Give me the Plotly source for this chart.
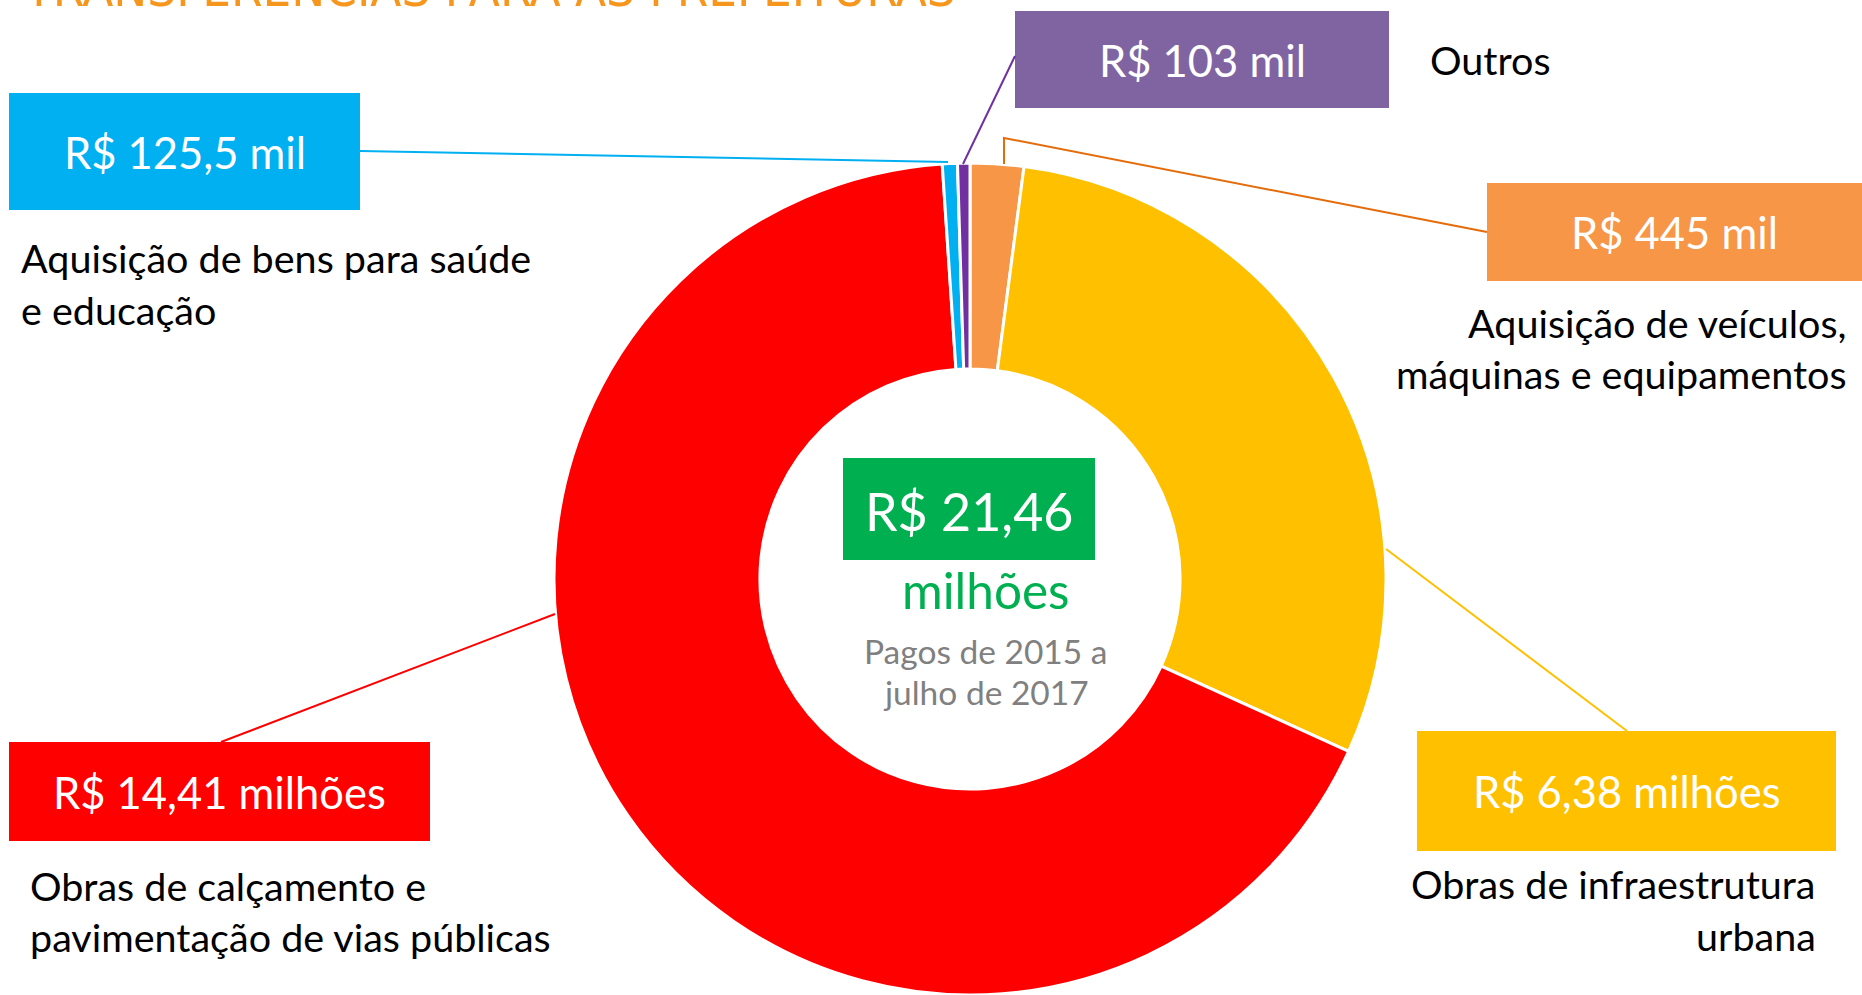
import plotly.graph_objects as go

W, H = 1862, 995

# ---------------- data ----------------
categories = [
    "Aquisição de veículos, máquinas e equipamentos",
    "Obras de infraestrutura urbana",
    "Obras de calçamento e pavimentação de vias públicas",
    "Aquisição de bens para saúde e educação",
    "Outros",
]
values_mil = [445, 6380, 14410, 125.5, 103]
value_labels = ["R$ 445 mil", "R$ 6,38 milhões", "R$ 14,41 milhões", "R$ 125,5 mil", "R$ 103 mil"]
label_lines = [
    ["Aquisição de veículos,", "máquinas e equipamentos"],
    ["Obras de infraestrutura", "urbana"],
    ["Obras de calçamento e", "pavimentação de vias públicas"],
    ["Aquisição de bens para saúde", "e educação"],
    ["Outros"],
]
total_label = "R$ 21,46"
total_unit = "milhões"
period_lines = ["Pagos de 2015 a", "julho de 2017"]
title_text = "TRANSFERÊNCIAS PARA AS PREFEITURAS"

# ---------------- styles ----------------
slice_colors = ["#F79646", "#FFC000", "#FF0000", "#00B0F0", "#7030A0"]
box_colors = ["#F79646", "#FFC000", "#FF0000", "#00B0F0", "#8064A2"]
line_colors = ["#E46C0A", "#FFC000", "#FF0000", "#00B0F0", "#7030A0"]
FONT = "Lato, 'Open Sans', sans-serif"

# donut geometry (pixels)
CX, CY, R = 970, 579, 416

def px(x):
    return x / W

def py(y):
    return 1 - y / H

# label layout in pixels: box (x0, y0, x1, y1), leader path, text anchor
boxes = [
    (1487, 183, 1862, 281),
    (1417, 731, 1836, 851),
    (9, 742, 430, 841),
    (9, 93, 360, 210),
    (1015, 11, 1389, 108),
]
leaders = [
    [(1487, 232), (1004, 138), (1004, 164)],
    [(1627, 731), (1386, 549)],
    [(221, 742), (555, 614)],
    [(360, 151), (948, 162)],
    [(1015, 56), (963, 164)],
]
text_pos = [
    ("right", 1849, [323, 374]),
    ("right", 1818, [883, 935]),
    ("left", 28, [885, 936]),
    ("left", 19, [258, 309]),
    ("left", 1428, [59]),
]

fig = go.Figure()
fig.add_trace(go.Pie(
    labels=categories,
    values=values_mil,
    sort=False,
    direction="clockwise",
    rotation=0,
    hole=0.505,
    textinfo="none",
    hoverinfo="label+value",
    showlegend=False,
    marker=dict(colors=slice_colors, line=dict(color="white", width=3)),
    domain=dict(x=[px(CX - R), px(CX + R)], y=[py(CY + R), py(CY - R)]),
))

shapes = []
annotations = []

for i in range(len(categories)):
    x0, y0, x1, y1 = boxes[i]
    shapes.append(dict(type="rect", xref="paper", yref="paper",
                       x0=px(x0), x1=px(x1), y0=py(y1), y1=py(y0),
                       fillcolor=box_colors[i], line=dict(width=0), layer="above"))
    pts = leaders[i]
    path = "M " + " L ".join(f"{px(a)},{py(b)}" for a, b in pts)
    shapes.append(dict(type="path", xref="paper", yref="paper", path=path,
                       line=dict(color=line_colors[i], width=2), layer="above"))
    annotations.append(dict(xref="paper", yref="paper",
                            x=px((x0 + x1) / 2), y=py((y0 + y1) / 2),
                            text=value_labels[i], showarrow=False,
                            xanchor="center", yanchor="middle",
                            font=dict(family=FONT, size=43.5, color="white")))
    align, tx, ys = text_pos[i]
    for line, ly in zip(label_lines[i], ys):
        annotations.append(dict(xref="paper", yref="paper", x=px(tx), y=py(ly),
                                text=line, showarrow=False,
                                xanchor=align, yanchor="middle",
                                font=dict(family=FONT, size=39.5, color="black")))

# center total
shapes.append(dict(type="rect", xref="paper", yref="paper",
                   x0=px(843), x1=px(1095), y0=py(560), y1=py(458),
                   fillcolor="#00B050", line=dict(width=0), layer="above"))
annotations.append(dict(xref="paper", yref="paper", x=px(969), y=py(511),
                        text=total_label, showarrow=False, xanchor="center", yanchor="middle",
                        font=dict(family=FONT, size=52, color="white")))
annotations.append(dict(xref="paper", yref="paper", x=px(986), y=py(590),
                        text=total_unit, showarrow=False, xanchor="center", yanchor="middle",
                        font=dict(family=FONT, size=49.5, color="#00B050")))
for line, ly in zip(period_lines, [651, 692]):
    annotations.append(dict(xref="paper", yref="paper", x=px(986), y=py(ly),
                            text=line, showarrow=False, xanchor="center", yanchor="middle",
                            font=dict(family=FONT, size=33.5, color="#808080")))

# title (cut at top of the page)
annotations.append(dict(xref="paper", yref="paper", x=px(22), y=py(-11),
                        text=title_text, showarrow=False, xanchor="left", yanchor="middle",
                        font=dict(family="'Liberation Sans Narrow', 'DejaVu Sans Condensed', sans-serif",
                                  size=50.5, color="#F7961C")))

fig.update_layout(
    width=W, height=H,
    margin=dict(l=0, r=0, t=0, b=0),
    paper_bgcolor="white", plot_bgcolor="white",
    shapes=shapes, annotations=annotations,
)

fig.write_html("out.html")
